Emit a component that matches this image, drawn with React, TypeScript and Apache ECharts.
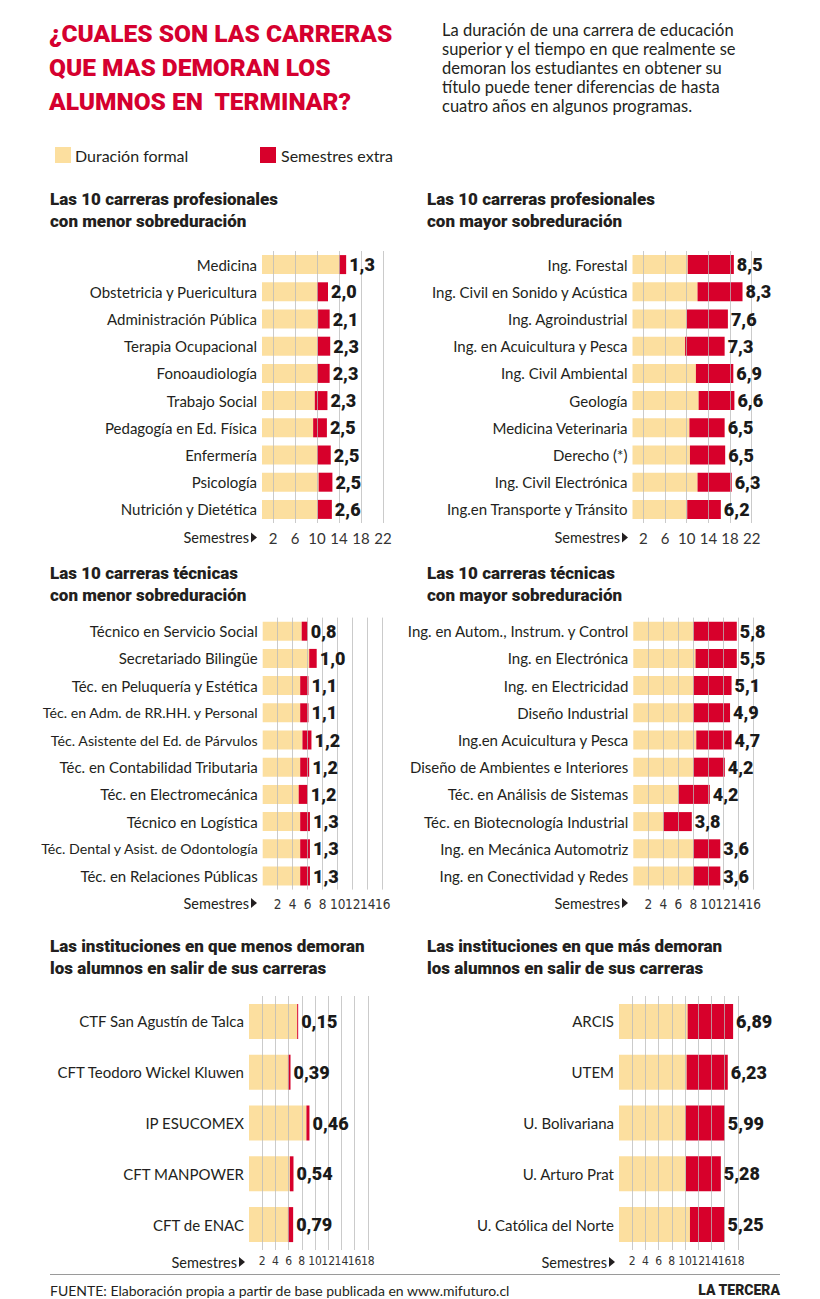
import React, { useEffect, useRef } from "react";
import * as echarts from "echarts";

const FONT = "Lato, 'Noto Sans', sans-serif";
const HEAVY = "Roboto, Lato, sans-serif";
const NARROW = "'Liberation Sans Narrow', 'DejaVu Sans Condensed', Lato, sans-serif";
const YELLOW = "#FCDF9F";
const RED = "#D7002B";
const TITLE_RED = "#D5002F";
const DARK = "#231f20";

// ---------- DATA ----------
const p1Cats = ["Medicina", "Obstetricia y Puericultura", "Administración Pública", "Terapia Ocupacional", "Fonoaudiología", "Trabajo Social", "Pedagogía en Ed. Física", "Enfermería", "Psicología", "Nutrición y Dietética"];
const p1Formal = [14, 10, 10.2, 10.1, 10, 9.6, 9.3, 10, 10.3, 10.1];
const p1Extra = [1.3, 2.0, 2.1, 2.3, 2.3, 2.3, 2.5, 2.5, 2.5, 2.6];
const p1Ticks = [2, 6, 10, 14, 18, 22];

const p2Cats = ["Ing. Forestal", "Ing. Civil en Sonido y Acústica", "Ing. Agroindustrial", "Ing. en Acuicultura y Pesca", "Ing. Civil Ambiental", "Geología", "Medicina Veterinaria", "Derecho (*)", "Ing. Civil Electrónica", "Ing.en Transporte y Tránsito"];
const p2Formal = [10.2, 12, 10, 9.7, 11.7, 12.2, 10.5, 10.6, 12, 10.1];
const p2Extra = [8.5, 8.3, 7.6, 7.3, 6.9, 6.6, 6.5, 6.5, 6.3, 6.2];
const p2Ticks = [2, 6, 10, 14, 18, 22];

const p3Cats = ["Técnico en Servicio Social", "Secretariado Bilingüe", "Téc. en Peluquería y Estética", "Téc. en Adm. de RR.HH. y Personal", "Téc. Asistente del Ed. de Párvulos", "Téc. en Contabilidad Tributaria", "Téc. en Electromecánica", "Técnico en Logística", "Téc. Dental y Asist. de Odontología", "Téc. en Relaciones Públicas"];
const p3Formal = [5.2, 6.2, 5, 5, 5.3, 5, 4.8, 5, 5, 5];
const p3Extra = [0.8, 1.0, 1.1, 1.1, 1.2, 1.2, 1.2, 1.3, 1.3, 1.3];
const p3Ticks = [2, 4, 6, 8, 10, 12, 14, 16];

const p4Cats = ["Ing. en Autom., Instrum. y Control", "Ing. en Electrónica", "Ing. en Electricidad", "Diseño Industrial", "Ing.en Acuicultura y Pesca", "Diseño de Ambientes e Interiores", "Téc. en Análisis de Sistemas", "Téc. en Biotecnología Industrial", "Ing. en Mecánica Automotriz", "Ing. en Conectividad y Redes"];
const p4Formal = [8, 8.3, 8, 8, 8.4, 8, 6, 4, 8, 8];
const p4Extra = [5.8, 5.5, 5.1, 4.9, 4.7, 4.2, 4.2, 3.8, 3.6, 3.6];
const p4Ticks = [2, 4, 6, 8, 10, 12, 14, 16];

const p5Cats = ["CTF San Agustín de Talca", "CFT Teodoro Wickel Kluwen", "IP ESUCOMEX", "CFT MANPOWER", "CFT de ENAC"];
const p5Formal = [7.3, 5.9, 8.7, 6.2, 5.9];
const p5Extra = [0.15, 0.39, 0.46, 0.54, 0.79];
const p5Ticks = [2, 4, 6, 8, 10, 12, 14, 16, 18];

const p6Cats = ["ARCIS", "UTEM", "U. Bolivariana", "U. Arturo Prat", "U. Católica del Norte"];
const p6Formal = [10.4, 10.25, 10.05, 10.15, 10.75];
const p6Extra = [6.89, 6.23, 5.99, 5.28, 5.25];
const p6Ticks = [2, 4, 6, 8, 10, 12, 14, 16, 18];

const titleLines = ["¿CUALES SON LAS CARRERAS", "QUE MAS DEMORAN LOS", "ALUMNOS EN  TERMINAR?"];
const descText = "La duración de una carrera de educación\nsuperior y el tiempo en que realmente se\ndemoran los estudiantes en obtener su\ntítulo puede tener diferencias de hasta\ncuatro años en algunos programas.";
const panelTitles = [
  "Las 10 carreras profesionales\ncon menor sobreduración",
  "Las 10 carreras profesionales\ncon mayor sobreduración",
  "Las 10 carreras técnicas\ncon menor sobreduración",
  "Las 10 carreras técnicas\ncon mayor sobreduración",
  "Las instituciones en que menos demoran\nlos alumnos en salir de sus carreras",
  "Las instituciones en que más demoran\nlos alumnos en salir de sus carreras",
];
const legendNames = ["Duración formal", "Semestres extra"];
const axisName = "Semestres";
const sourceText = "FUENTE: Elaboración propia a partir de base publicada en www.mifuturo.cl";
const brandText = "LA TERCERA";

// ---------- LAYOUT ----------
type Panel = {
  cats: string[]; formal: number[]; extra: number[]; ticks: number[]; max: number;
  left: number; pxPerUnit: number; top: number; height: number; barWidth: number; decimals: number;
  tickFont: number; tickFamily: string; narrowCats: boolean;
};

const panels: Panel[] = [
  { cats: p1Cats, formal: p1Formal, extra: p1Extra, ticks: p1Ticks, max: 22.4, left: 262, pxPerUnit: 5.5, top: 251, height: 272, barWidth: 19, decimals: 1, tickFont: 15, tickFamily: FONT, narrowCats: false },
  { cats: p2Cats, formal: p2Formal, extra: p2Extra, ticks: p2Ticks, max: 22.4, left: 632.5, pxPerUnit: 5.42, top: 251, height: 272, barWidth: 19, decimals: 1, tickFont: 15, tickFamily: FONT, narrowCats: false },
  { cats: p3Cats, formal: p3Formal, extra: p3Extra, ticks: p3Ticks, max: 16.4, left: 262.7, pxPerUnit: 7.5, top: 617.6, height: 272, barWidth: 19, decimals: 1, tickFont: 13.5, tickFamily: NARROW, narrowCats: true },
  { cats: p4Cats, formal: p4Formal, extra: p4Extra, ticks: p4Ticks, max: 16.4, left: 633.3, pxPerUnit: 7.5, top: 617.6, height: 272, barWidth: 19, decimals: 1, tickFont: 13.5, tickFamily: NARROW, narrowCats: false },
  { cats: p5Cats, formal: p5Formal, extra: p5Extra, ticks: p5Ticks, max: 18.4, left: 249, pxPerUnit: 6.6, top: 996, height: 254, barWidth: 35, decimals: 2, tickFont: 12, tickFamily: NARROW, narrowCats: false },
  { cats: p6Cats, formal: p6Formal, extra: p6Extra, ticks: p6Ticks, max: 18.4, left: 619, pxPerUnit: 6.6, top: 996, height: 254, barWidth: 35, decimals: 2, tickFont: 12, tickFamily: NARROW, narrowCats: false },
];

function buildOption() {
  const grid: any[] = [];
  const xAxis: any[] = [];
  const yAxis: any[] = [];
  const series: any[] = [];

  panels.forEach((p, i) => {
    grid.push({ left: p.left, top: p.top, width: p.max * p.pxPerUnit, height: p.height });
    xAxis.push({
      gridIndex: i, type: "value", min: 0, max: p.max, interval: 2,
      splitLine: { show: false }, axisLine: { show: false }, axisTick: { show: false },
      axisLabel: {
        formatter: (v: number) => (p.ticks.includes(v) ? String(v) : ""),
        hideOverlap: false,
        fontSize: p.tickFont, color: "#333", margin: i >= 4 ? 5 : 7, fontFamily: p.tickFamily,
      },
    });
    yAxis.push({
      gridIndex: i, type: "category", inverse: true, data: p.cats,
      axisLine: { show: false }, axisTick: { show: false },
      axisLabel: {
        fontSize: 15, color: DARK, margin: 5, fontFamily: FONT,
        formatter: (v: string) => (p.narrowCats && v.length > 32 ? "{n|" + v + "}" : v),
        rich: { n: { fontSize: 14.2, color: DARK, fontFamily: FONT } },
      },
    });
    series.push({
      type: "bar", name: legendNames[0], xAxisIndex: i, yAxisIndex: i, stack: "s" + i,
      data: p.formal, barWidth: p.barWidth, itemStyle: { color: YELLOW }, silent: true,
      markLine: {
        silent: true, z: 5, symbol: ["none", "none"], label: { show: false },
        lineStyle: { color: "rgba(185,185,185,0.75)", width: 1, type: "solid" },
        emphasis: { disabled: true },
        data: p.ticks.map((v) => ({ xAxis: v })),
      },
    });
    series.push({
      type: "bar", name: legendNames[1], xAxisIndex: i, yAxisIndex: i, stack: "s" + i,
      data: p.extra, barWidth: p.barWidth, itemStyle: { color: RED }, silent: true,
    });
    // value labels, drawn above the grid lines
    series.push({
      type: "bar", name: "labels" + i, xAxisIndex: i, yAxisIndex: i, stack: "s" + i, z: 10,
      data: p.extra.map(() => 0), barWidth: p.barWidth, itemStyle: { color: "transparent" }, silent: true,
      label: {
        show: true, position: "right", distance: 3,
        formatter: (prm: any) => p.extra[prm.dataIndex].toFixed(p.decimals).replace(".", ","),
        fontSize: 18, fontWeight: 900, color: "#1a1a1a", fontFamily: HEAVY,
      },
    });
  });

  const txt = (x: number, y: number, text: string, opts: any = {}) => ({
    type: "text", x, y, silent: true,
    style: {
      text, fill: opts.fill || DARK, fontSize: opts.fontSize || 15,
      fontWeight: opts.fontWeight || "normal", fontFamily: opts.family || FONT,
      textAlign: opts.align || "left", align: opts.align || "left",
      textVerticalAlign: opts.va || "middle", verticalAlign: opts.va || "middle",
      lineHeight: opts.lineHeight,
    },
  });

  const graphic: any[] = [];
  titleLines.forEach((t, k) => graphic.push(txt(49, 33 + k * 34, t, { fill: TITLE_RED, fontSize: 24.5, fontWeight: 900, family: HEAVY })));
  graphic.push(txt(442, 20.5, descText, { fontSize: 16.5, va: "top", lineHeight: 19 }));
  graphic.push({ type: "rect", shape: { x: 55, y: 147, width: 16, height: 16 }, style: { fill: YELLOW } });
  graphic.push(txt(75, 155.5, legendNames[0], { fontSize: 16 }));
  graphic.push({ type: "rect", shape: { x: 260, y: 147, width: 16, height: 16 }, style: { fill: RED } });
  graphic.push(txt(281, 155.5, legendNames[1], { fontSize: 16 }));

  const titlePos = [[50, 188.5], [427, 188.5], [50, 562.5], [427, 562.5], [50, 935.5], [427, 935.5]];
  panelTitles.forEach((t, k) => graphic.push(txt(titlePos[k][0], titlePos[k][1], t, { fontSize: 17, fontWeight: 900, family: HEAVY, va: "top", lineHeight: 21.5 })));

  const semPos = [[257, 537.5], [628, 537.5], [257, 903], [628, 903], [245, 1262], [615, 1262]];
  semPos.forEach(([x, y]) => {
    graphic.push(txt(x - 8, y, axisName, { fontSize: 14.5, align: "right" }));
    graphic.push({ type: "polygon", shape: { points: [[x - 6, y - 5], [x, y], [x - 6, y + 5]] }, style: { fill: DARK } });
  });

  graphic.push({ type: "line", shape: { x1: 50, y1: 1274.5, x2: 780, y2: 1274.5 }, style: { stroke: "#9a9a9a", lineWidth: 1 } });
  graphic.push(txt(50, 1290, sourceText, { fontSize: 14 }));
  graphic.push(txt(780, 1290, brandText, { fontSize: 14, fontWeight: 900, family: HEAVY, align: "right" }));

  return {
    animation: false,
    backgroundColor: "#ffffff",
    textStyle: { fontFamily: FONT },
    grid, xAxis, yAxis, series, graphic,
  };
}

export default function App() {
  const ref = useRef<HTMLDivElement>(null);
  useEffect(() => {
    if (!ref.current) return;
    const chart = echarts.init(ref.current, undefined, { renderer: "svg" });
    chart.setOption(buildOption() as any);
    return () => chart.dispose();
  }, []);
  return <div ref={ref} style={{ position: "absolute", left: 0, top: 0, width: 820, height: 1299 }} />;
}
